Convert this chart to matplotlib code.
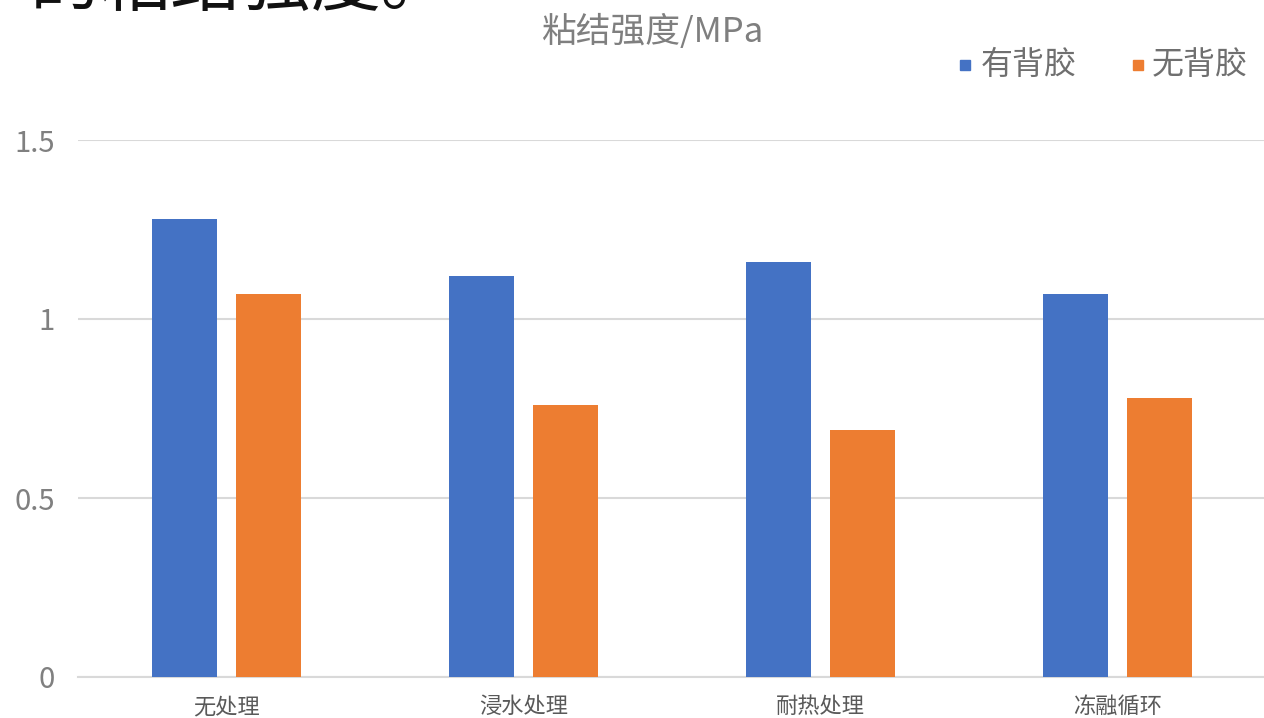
import numpy as np
import matplotlib.pyplot as plt

plt.rcParams['font.family'] = ['Noto Sans CJK SC', 'DejaVu Sans']

# 数据
categories = ['无处理', '浸水处理', '耐热处理', '冻融循环']
with_glue = [1.28, 1.12, 1.16, 1.07]
without_glue = [1.07, 0.76, 0.69, 0.78]
series_names = ['有背胶', '无背胶']
y_ticks = [0, 0.5, 1, 1.5]
y_tick_labels = ['0', '0.5', '1', '1.5']

blue = '#4472c4'
orange = '#ed7d31'

fig = plt.figure(figsize=(12.64, 7.18), dpi=100)
ax = fig.add_axes([78 / 1264, 41 / 718, 1188 / 1264, 537 / 718])

x = np.arange(len(categories))
w = 0.222
off = 0.1414

ax.bar(x - off, with_glue, width=w, color=blue, zorder=3)
ax.bar(x + off, without_glue, width=w, color=orange, zorder=3)

ax.set_xlim(-0.5, len(categories) - 0.5)
ax.set_ylim(0, 1.5)
ax.set_yticks(y_ticks)
ax.set_yticklabels(y_tick_labels)
ax.yaxis.grid(True, color='#d9d9d9', linewidth=1.5, zorder=0)
ax.set_axisbelow(True)

for s in ['top', 'right', 'left']:
    ax.spines[s].set_visible(False)
ax.spines['bottom'].set_color('#d9d9d9')
ax.spines['bottom'].set_linewidth(1.5)

ax.tick_params(axis='y', length=0, pad=16.5, labelsize=21, labelcolor='#808080')
ax.tick_params(axis='x', length=0, pad=13, labelsize=16, labelcolor='#595959')
ax.set_xticks(x)
ax.set_xticklabels(categories)

# 标题
fig.text(652 / 1264, 1 - 32 / 718, '粘结强度/MPa', ha='center', va='center',
         fontsize=25, color='#7f7f7f')

# 图例
fig.patches.append(plt.Rectangle((960 / 1264, 1 - 70 / 718), 10 / 1264, 10 / 718,
                                 transform=fig.transFigure, color=blue))
fig.text(981 / 1264, 1 - 65 / 718, series_names[0], ha='left', va='center',
         fontsize=23, color='#6f6f6f')
fig.patches.append(plt.Rectangle((1133 / 1264, 1 - 70 / 718), 10 / 1264, 10 / 718,
                                 transform=fig.transFigure, color=orange))
fig.text(1152 / 1264, 1 - 65 / 718, series_names[1], ha='left', va='center',
         fontsize=23, color='#6f6f6f')

# 被裁切的正文
fig.text(-40 / 1264, 1 - 5 / 718, '下的粘结强度。', ha='left', va='baseline',
         fontsize=50.5, color='#111111')

fig.savefig('out.png', dpi=100)
